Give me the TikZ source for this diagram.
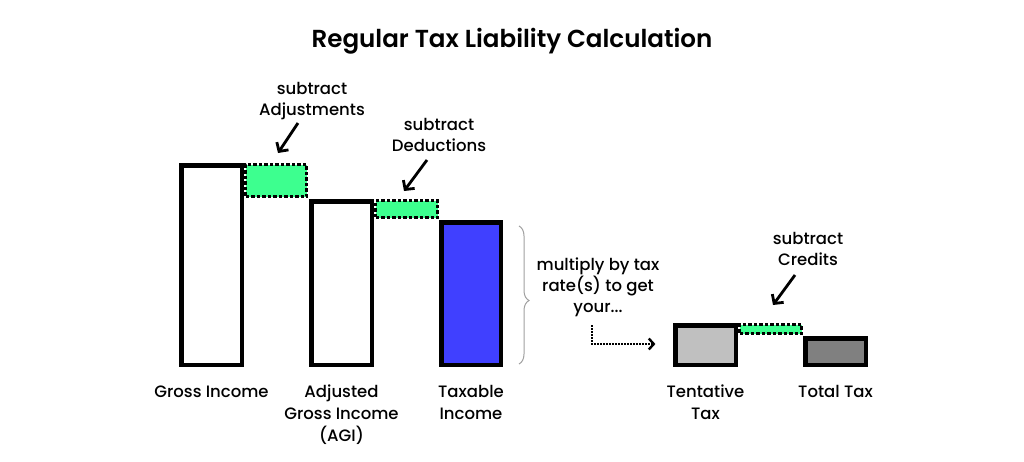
\documentclass[tikz,border=0pt]{standalone}
\usepackage{fontspec}
\setmainfont{Poppins}[UprightFont=* Medium,BoldFont=* SemiBold]
\usetikzlibrary{arrows.meta,decorations.pathreplacing}
\definecolor{mint}{HTML}{3DFF8F}
\definecolor{taxblue}{HTML}{4040FF}
\definecolor{lightbar}{HTML}{C0C0C0}
\definecolor{darkbar}{HTML}{808080}
\definecolor{bracegray}{HTML}{A0A0A0}
\begin{document}
\begin{tikzpicture}[x=1pt,y=-1pt,
  bar/.style={draw=black,line width=4.5pt,inner sep=0pt,outer sep=0pt},
  minus/.style={draw=black,fill=mint,line width=3pt,dash pattern=on 3.5pt off 2pt,inner sep=0pt,outer sep=0pt},
  lbl/.style={font=\fontsize{16.5}{22}\selectfont,align=center,anchor=base,inner sep=0pt},
  note/.style={font=\fontsize{16.5}{21}\selectfont,align=center,anchor=base,inner sep=0pt},
  arr/.style={line width=2.8pt,-{Straight Barb[length=6.5pt,width=14pt,line width=2.8pt]}},
  dotarr/.style={line width=2.4pt,dash pattern=on 1.6pt off 1.4pt,-{Straight Barb[length=5pt,width=11pt,line width=2.4pt,sep]}}]
\fill[white] (0,0) rectangle (1024,461);
\useasboundingbox (0,0) rectangle (1024,461);

\node[font=\bfseries\fontsize{24.6}{28}\selectfont,anchor=base,inner sep=0pt] (title) at (512,47) {Regular Tax Liability Calculation};

% bars
\node[bar,fill=white,minimum width=60.5pt,minimum height=199.5pt] (gross) at (211.5,265) {};
\node[bar,fill=white,minimum width=60.5pt,minimum height=163.5pt] (agi) at (341.5,283) {};
\node[bar,fill=taxblue,minimum width=59.5pt,minimum height=142.5pt] (taxable) at (471,293.5) {};
\node[bar,fill=lightbar,minimum width=60.5pt,minimum height=39.5pt] (tentative) at (705.5,345) {};
\node[bar,fill=darkbar,minimum width=60.5pt,minimum height=26.5pt] (total) at (835.5,351.5) {};

% subtracted parts
\node[minus,minimum width=61pt,minimum height=32pt] (adj) at (276,180.5) {};
\node[minus,minimum width=62pt,minimum height=17pt] (ded) at (406.5,209) {};
\node[minus,minimum width=62pt,minimum height=9pt] (cred) at (770.5,329) {};

% bar labels (base = baseline of last line)
\node[lbl] (lgross) at (211.5,397) {Gross Income};
\node[lbl] (lagi) at (341.5,441) {Adjusted\\Gross Income\\(AGI)};
\node[lbl] (ltaxable) at (471,419) {Taxable\\Income};
\node[lbl] (ltentative) at (705.5,419) {Tentative\\Tax};
\node[lbl] (ltotal) at (835.5,397) {Total Tax};

% notes
\node[note] (nadj) at (312,115) {subtract\\Adjustments};
\node[note] (nded) at (439,151) {subtract\\Deductions};
\node[note] (ncred) at (808,265) {subtract\\Credits};
\node[note] (nmult) at (598,312) {multiply by tax\\rate(s) to get\\your...};

% arrows
\coordinate (a1s) at (298,123);
\coordinate (a1e) at (278,153);
\coordinate (a2s) at (427,160);
\coordinate (a2e) at (404,191);
\coordinate (a3s) at (795,275);
\coordinate (a3e) at (773,305);
\draw[arr] (a1s) -- (a1e);
\draw[arr] (a2s) -- (a2e);
\draw[arr] (a3s) -- (a3e);

% brace
\coordinate (btop) at (519,226);
\coordinate (bbot) at (519,364);
\draw[bracegray,line width=1pt,decorate,decoration={brace,amplitude=10pt,aspect=0.54}] (btop) -- (bbot);

% dotted arrow
\coordinate (dstart) at (592,325);
\coordinate (dend) at (657,344);
\draw[dotarr] (dstart) |- (dend);
\end{tikzpicture}
\end{document}
